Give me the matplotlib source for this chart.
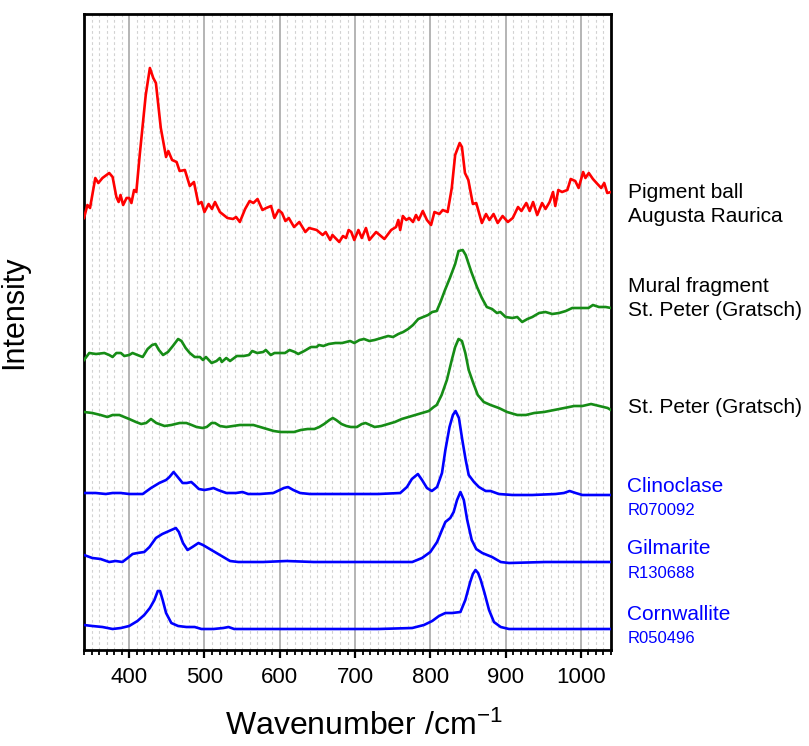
import matplotlib
matplotlib.use("Agg")
import matplotlib.pyplot as plt
from matplotlib.ticker import MultipleLocator

plt.rcParams['font.family'] = ['Liberation Sans', 'DejaVu Sans']
plt.rcParams['mathtext.fontset'] = 'custom'
plt.rcParams['mathtext.rm'] = 'Liberation Sans'
plt.rcParams['mathtext.it'] = 'Liberation Sans:italic'

# ---------------- data (wavenumber, stacked intensity) ----------------
red_x = [340, 344.5, 348, 355, 359, 364.5, 373.5, 378, 383, 386, 388.5, 392, 396.5, 400, 403, 406.5,
         409.5, 414, 422, 427.5, 432, 435.5, 442, 449, 452, 457, 463, 467, 474, 480.5, 486, 492, 496,
         500, 505.5, 510, 514, 520.5, 530.5, 538, 542, 547, 554, 560, 565, 570.5, 577, 582, 588.5, 593,
         598.5, 603, 607.5, 612, 619, 626, 634, 639, 649, 657, 661, 667, 670, 679, 684, 688, 691.5, 695,
         699, 704.5, 709, 714.5, 719, 728, 739, 748, 754.5, 757.5, 760, 763.5, 768, 772, 777, 781, 784.5,
         790, 795.5, 801, 805.5, 812, 816.5, 823, 828.5, 833, 839, 842, 846, 850.5, 856.5, 861, 868.5,
         874, 878.5, 884, 889.5, 896, 903, 909.5, 916.5, 921, 927.5, 932, 936.5, 942, 948.5, 953, 958.5,
         963, 966, 970, 975, 982, 986.5, 992.5, 997, 1003, 1006, 1010.5, 1016, 1022, 1027, 1031, 1035, 1040]
red_y = [432, 445, 442, 472, 467, 472, 477, 473, 453, 448, 455, 445, 452, 452, 447, 460,
         458, 495, 555, 582, 572, 567, 522, 493, 499, 490, 488, 479, 480, 464, 468, 446, 448,
         438, 446, 441, 448, 438, 432, 431, 433, 428, 441, 449, 447, 451, 440, 442, 444, 432,
         440, 437, 429, 432, 423, 428, 418, 422, 420, 415, 418, 410, 415, 408, 414, 412, 420, 418,
         410, 420, 412, 422, 410, 418, 411, 420, 423, 430, 420, 434, 430, 432, 428, 435, 430,
         439, 430, 425, 438, 436, 440, 438, 462, 495, 507, 503, 477, 470, 446, 447, 427,
         436, 430, 436, 427, 434, 428, 432, 443, 439, 447, 439, 448, 435, 447, 441, 448,
         458, 444, 460, 458, 460, 471, 469, 462, 478, 472, 477, 471, 466, 462, 467, 457, 458]

mural_x = [340, 347, 356, 367, 373.5, 378, 383, 389, 393.5, 400, 404.5, 411, 418, 424.5, 430.5, 435,
           439.5, 445, 451.5, 458, 465, 469.5, 475, 480.5, 487, 494, 498, 502, 509.5, 516, 520.5, 523,
           529, 534, 543, 552, 559, 563.5, 570, 578, 581.5, 588, 593, 602, 607, 613, 620, 624.5, 632.5,
           641.5, 649, 652, 658, 665, 674, 683, 693.5, 699, 706, 712, 719, 726, 735, 744, 750.5, 757.5,
           764, 770.5, 777, 784, 790.5, 797, 802.5, 808.5, 813, 819.5, 826, 833, 837.5, 843, 847, 854.5,
           862, 868.5, 875, 882, 888.5, 893, 900, 909, 915.5, 922, 929, 935.5, 944.5, 953, 962, 971, 980,
           988.5, 997, 1004, 1010, 1016, 1024, 1033, 1040]
mural_y = [290, 297, 296, 297, 295, 293, 297, 297, 294, 295, 297, 295, 293, 301, 305, 306,
           300, 295, 298, 304, 311, 309, 302, 297, 293, 293, 290, 293, 287, 289, 292, 288,
           292, 289, 294, 294, 295, 299, 297, 298, 300, 295, 297, 297, 297, 300, 298, 296, 299,
           303, 303, 305, 304, 306, 307, 307, 309, 307, 310, 311, 309, 310, 312, 314, 313, 316,
           318, 321, 325, 331, 333, 335, 338, 339, 347, 360, 372, 386, 399, 400, 395, 378,
           363, 352, 343, 341, 337, 338, 333, 332, 333, 328, 331, 333, 337, 338, 336, 337, 339,
           342, 342, 342, 342, 345, 343, 343, 342]

peter_x = [340, 351, 362, 371, 378, 387, 393.5, 400, 409, 416, 422.5, 429, 436, 447, 456, 467, 476,
           483, 489.5, 497.5, 503, 509.5, 514, 520.5, 529, 538, 547, 556, 565, 574, 583, 592, 601, 610,
           619, 628, 637, 646, 652.5, 659, 666, 670.5, 675, 682, 688.5, 694.5, 702.5, 709, 714, 720, 726,
           735, 744, 753, 762, 771, 780, 789, 798, 804.5, 808.5, 815, 822, 828.5, 833, 837.5, 842, 846.5,
           851, 857, 863, 871, 880, 891, 902, 915.5, 927, 938, 951, 964.5, 978, 991, 1002, 1013.5,
           1024.5, 1035.5, 1040]
peter_y = [238, 237, 235, 233, 235, 235, 233, 231, 228, 226, 227, 231, 227, 224, 225, 227, 227,
           225, 223, 222, 223, 227, 227, 224, 223, 224, 225, 225, 225, 223, 221, 219, 218, 218,
           218, 220, 221, 221, 223, 226, 230, 232, 230, 226, 224, 223, 223, 226, 227, 225, 223,
           224, 226, 228, 231, 233, 235, 237, 239, 243, 245, 255, 270, 290, 303, 311, 309, 297,
           280, 267, 255, 248, 245, 242, 238, 235, 235, 237, 238, 240, 242, 244, 244, 246,
           244, 242, 240]

clino_x = [340, 355.5, 369, 378, 389, 400, 418, 429, 440, 449, 453.5, 459, 464.5, 471, 476.5, 482.5,
           487, 492.5, 500, 507, 512, 518, 529, 542, 550.5, 558, 573.5, 591.5, 600, 605.5, 611, 618,
           627, 640, 662, 692, 731, 760, 769, 775.5, 783.5, 789, 795.5, 802, 809, 815.5, 820, 825.5,
           830, 833.5, 838, 842.5, 847, 851, 858, 864.5, 873.5, 880, 891, 909, 935.5, 966.5, 977.5,
           985, 993, 1002, 1040]
clino_y = [157, 157, 156, 157, 157, 156, 156, 162, 167, 170, 173, 178, 173, 167, 167, 168,
           165, 161, 160, 161, 162, 160, 157, 157, 158, 156, 156, 157, 160, 162, 163, 160,
           157, 156, 156, 156, 156, 157, 163, 171, 176, 170, 162, 159, 163, 177, 200, 223,
           235, 239, 232, 210, 190, 175, 168, 163, 159, 159, 156, 155, 155, 156, 157,
           159, 157, 155, 155]

gilm_x = [340, 351, 362, 373.5, 382, 391, 398, 404.5, 411, 420, 427, 435.5, 444, 453, 462, 466, 471.5,
          477.5, 484, 492, 498, 507, 516, 525, 534, 545, 578, 609, 645, 692, 731, 776, 789, 800, 809,
          815.5, 820, 826.5, 831, 835.5, 840, 844.5, 849, 855, 861, 869, 882, 893.5, 904.5, 953, 1040]
gilm_y = [95, 92, 91, 88, 89, 88, 92, 96, 97, 98, 103, 112, 116, 119, 122, 118, 107,
          100, 103, 107, 105, 101, 97, 93, 89, 88, 88, 89, 88, 88, 88, 88, 92, 98, 108,
          120, 128, 132, 138, 150, 158, 150, 130, 110, 101, 97, 93, 88, 87, 88, 88]

corn_x = [340, 351, 364.5, 378, 389, 400, 411, 420, 427.5, 433.5, 438, 441, 444.5, 449, 456, 465, 476,
          487, 496, 512, 525, 532, 539.5, 556, 601, 693, 731, 776, 791.5, 802.5, 811.5, 820, 829, 840,
          846.5, 853, 856.5, 860, 863.5, 867, 872, 878, 884.5, 893.5, 904.5, 953, 1040]
corn_y = [25, 24, 23, 21, 22, 24, 29, 35, 42, 50, 59, 59, 50, 37, 27, 24, 23,
          23, 21, 21, 22, 23, 21, 21, 21, 21, 21, 22, 25, 29, 34, 37, 37, 38,
          50, 68, 76, 80, 77, 70, 57, 40, 28, 23, 21, 21, 21]

series = [
    (red_x, red_y, '#ff0000'),
    (mural_x, mural_y, '#168c16'),
    (peter_x, peter_y, '#168c16'),
    (clino_x, clino_y, '#0000ff'),
    (gilm_x, gilm_y, '#0000ff'),
    (corn_x, corn_y, '#0000ff'),
]

# labels: (text, baseline pixel y, size, colour)
labels = [
    ("Pigment ball", 198, 15, 'black'),
    ("Augusta Raurica", 222.5, 15, 'black'),
    ("Mural fragment", 292.5, 15, 'black'),
    ("St. Peter (Gratsch)", 316.5, 15, 'black'),
    ("St. Peter (Gratsch)", 413, 15, 'black'),
    ("Clinoclase", 491.5, 15, '#0000ff'),
    ("R070092", 515, 12, '#0000ff'),
    ("Gilmarite", 554, 15, '#0000ff'),
    ("R130688", 577.5, 12, '#0000ff'),
    ("Cornwallite", 620, 15, '#0000ff'),
    ("R050496", 643, 12, '#0000ff'),
]

W, H = 809, 746
fig = plt.figure(figsize=(W / 100, H / 100), dpi=100)
ax = fig.add_axes([84 / W, 1 - 650 / H, (611 - 84) / W, (650 - 14) / H])

for xs, ys, c in series:
    ax.plot(xs, ys, color=c, lw=1.9, zorder=3, solid_joinstyle='round')

ax.set_xlim(340, 1040)
ax.set_ylim(0, 636)
ax.xaxis.set_major_locator(MultipleLocator(100))
ax.xaxis.set_minor_locator(MultipleLocator(10))
ax.set_yticks([])
ax.grid(which='minor', axis='x', color='#d2d2d2', lw=0.8, linestyle=(0, (2.5, 2.5)), zorder=0)
ax.grid(which='major', axis='x', color='#a8a8a8', lw=1.2, linestyle='-', zorder=1)

for s in ax.spines.values():
    s.set_linewidth(2.0)
ax.tick_params(axis='x', which='major', direction='out', length=6, width=1.6,
               labelsize=16, pad=6)
ax.tick_params(axis='x', which='minor', direction='out', length=3.5, width=1.3)

ax.set_xlabel("Wavenumber /cm$^{-1}$", fontsize=23)
ax.xaxis.set_label_coords(0.531, -0.095)
ax.set_ylabel("Intensity", fontsize=22)
ax.yaxis.set_label_coords(-0.105, 0.531)

for txt, yb, size, c in labels:
    fig.text(627.5 / W, 1 - yb / H, txt, fontsize=size, color=c, ha='left', va='baseline')

fig.savefig("out.png", dpi=100)
